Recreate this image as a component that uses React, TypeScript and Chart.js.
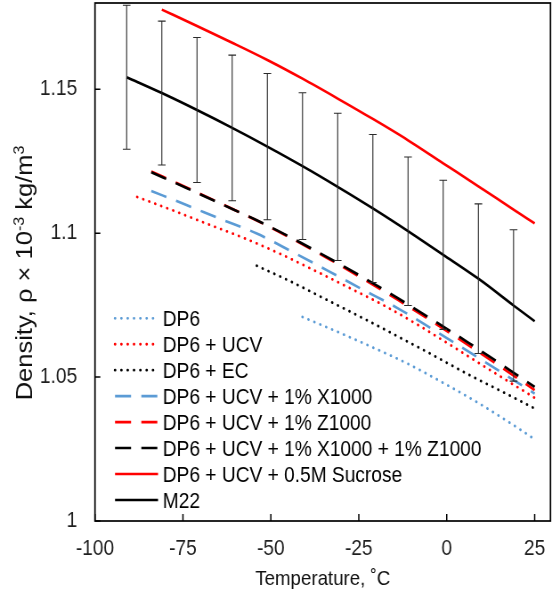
import React, { useEffect, useRef } from "react";
import { Chart, registerables } from "chart.js";

Chart.register(...registerables);

// ---------------- data ----------------
const xTicks = [-100, -75, -50, -25, 0, 25];
const xTickLabels = ["-100", "-75", "-50", "-25", "0", "25"];
const yTicks = [1, 1.05, 1.1, 1.15];
const yTickLabels = ["1", "1.05", "1.1", "1.15"];

const dp6T = [-41, -31, -21, -11, -1, 9, 19, 25];
const dp6Rho = [1.0709, 1.0657, 1.0603, 1.0546, 1.048, 1.041, 1.0333, 1.0284];

const dp6ucvT = [-88, -78, -68, -58, -48, -38, -28, -18, -8, 2, 12, 25];
const dp6ucvRho = [1.1126, 1.108, 1.1032, 1.0985, 1.0932, 1.0873, 1.0812, 1.075, 1.068, 1.0604, 1.0527, 1.0428];

const dp6ecT = [-54, -44, -34, -24, -14, -4, 6, 16, 25];
const dp6ecRho = [1.0887, 1.083, 1.0768, 1.0706, 1.0642, 1.0577, 1.051, 1.0448, 1.0391];

const x1000T = [-84, -74, -64, -54, -44, -34, -24, -14, -4, 6, 16, 25];
const x1000Rho = [1.1147, 1.1098, 1.1048, 1.0999, 1.0936, 1.0871, 1.0805, 1.074, 1.0666, 1.059, 1.0513, 1.0443];

const z1000T = [-84, -74, -64, -54, -44, -34, -24, -14, -4, 6, 16, 25];
const z1000Rho = [1.1215, 1.1159, 1.1102, 1.1044, 1.0981, 1.0914, 1.0843, 1.0769, 1.0692, 1.0612, 1.053, 1.0455];

const xzT = [-84, -74, -64, -54, -44, -34, -24, -14, -4, 6, 16, 25];
const xzRho = [1.1212, 1.1157, 1.1101, 1.1045, 1.0983, 1.0917, 1.0848, 1.0775, 1.0699, 1.0621, 1.054, 1.0466];

const sucroseT = [-81, -71, -61, -51, -41, -31, -21, -11, -1, 9, 19, 25];
const sucroseRho = [1.1777, 1.172, 1.1662, 1.1602, 1.1537, 1.1468, 1.1397, 1.1323, 1.1243, 1.1163, 1.1082, 1.1034];

const m22T = [-91, -81, -71, -61, -51, -41, -31, -21, -11, -1, 9, 19, 25];
const m22Rho = [1.1542, 1.1487, 1.1428, 1.1366, 1.1301, 1.1233, 1.1161, 1.1086, 1.1007, 1.0925, 1.0842, 1.0749, 1.0694];
const m22Err = [0.025, 0.025, 0.0252, 0.0253, 0.0254, 0.0255, 0.0256, 0.0257, 0.0258, 0.0259, 0.026, 0.0263, null];

const seriesLabels = [
  "DP6",
  "DP6 + UCV",
  "DP6 + EC",
  "DP6 + UCV + 1% X1000",
  "DP6 + UCV + 1% Z1000",
  "DP6 + UCV + 1% X1000 + 1% Z1000",
  "DP6 + UCV + 0.5M Sucrose",
  "M22",
];

const xTitle = "Temperature, \u02DAC";
const yTitleParts: { t: string; sup: boolean }[] = [
  { t: "Density, \u03C1 \u00D7 10", sup: false },
  { t: "-3", sup: true },
  { t: " kg/m", sup: false },
  { t: "3", sup: true },
];

// ---------------- layout / style ----------------
const FONT = '"Liberation Sans", Arial, Helvetica, sans-serif';
const LOGICAL_W = 620;
const SHOWN_W = 552;
const H = 597;

const BLUE = "#5B9BD5";
const RED = "#FF0000";
const BLACK = "#000000";

const dotStyle = { borderWidth: 2.8, borderDash: [0.1, 7], borderCapStyle: "round" as const };
const dashStyle = { borderWidth: 2.6, borderDash: [18, 11.5], borderCapStyle: "butt" as const };
const solidStyle = { borderWidth: 2.6, borderDash: [] as number[], borderCapStyle: "butt" as const };

function pts(t: number[], r: number[]) {
  return t.map((v, i) => ({ x: v, y: r[i] }));
}

const seriesData = [
  { t: dp6T, r: dp6Rho, color: BLUE, st: dotStyle },
  { t: dp6ucvT, r: dp6ucvRho, color: RED, st: dotStyle },
  { t: dp6ecT, r: dp6ecRho, color: BLACK, st: dotStyle },
  { t: x1000T, r: x1000Rho, color: BLUE, st: dashStyle },
  { t: z1000T, r: z1000Rho, color: RED, st: dashStyle },
  { t: xzT, r: xzRho, color: BLACK, st: dashStyle },
  { t: sucroseT, r: sucroseRho, color: RED, st: solidStyle },
  { t: m22T, r: m22Rho, color: BLACK, st: solidStyle },
];

const customPlugin = {
  id: "customDraw",
  beforeDraw(chart: any) {
    const ctx = chart.ctx;
    ctx.save();
    ctx.fillStyle = "#ffffff";
    ctx.fillRect(0, 0, chart.width, chart.height);
    ctx.restore();
  },
  afterDatasetsDraw(chart: any) {
    const ctx: CanvasRenderingContext2D = chart.ctx;
    const a = chart.chartArea;
    const x = chart.scales.x;
    const y = chart.scales.y;
    ctx.save();
    // error bars on M22
    ctx.strokeStyle = "#2a2a2a";
    ctx.lineWidth = 1.1;
    ctx.setLineDash([]);
    m22T.forEach((t, i) => {
      const e = m22Err[i];
      if (e == null) return;
      const px = x.getPixelForValue(t);
      const top = y.getPixelForValue(m22Rho[i] + e);
      const bot = y.getPixelForValue(m22Rho[i] - e);
      ctx.beginPath();
      ctx.moveTo(px, top);
      ctx.lineTo(px, bot);
      ctx.moveTo(px - 4.3, top);
      ctx.lineTo(px + 4.3, top);
      ctx.moveTo(px - 4.3, bot);
      ctx.lineTo(px + 4.3, bot);
      ctx.stroke();
    });
    // plot box
    ctx.strokeStyle = "#000";
    ctx.lineWidth = 1.7;
    ctx.strokeRect(a.left, a.top, a.right - a.left, a.bottom - a.top);
    // inside tick marks
    ctx.lineWidth = 1.5;
    ctx.beginPath();
    xTicks.forEach((v) => {
      const px = x.getPixelForValue(v);
      ctx.moveTo(px, a.bottom);
      ctx.lineTo(px, a.bottom - 7);
    });
    yTicks.forEach((v) => {
      const py = y.getPixelForValue(v);
      ctx.moveTo(a.left, py);
      ctx.lineTo(a.left + 6, py);
    });
    ctx.stroke();
    ctx.restore();
  },
  afterDraw(chart: any) {
    const ctx: CanvasRenderingContext2D = chart.ctx;
    const a = chart.chartArea;
    ctx.save();
    // legend
    const x0 = 129.2;
    const x1 = 177.5;
    const tx = 182.8;
    const rowY0 = 318.3;
    const rowStep = 25.95;
    ctx.font = `21.5px ${FONT}`;
    ctx.textAlign = "left";
    ctx.textBaseline = "alphabetic";
    chart.data.datasets.forEach((ds: any, i: number) => {
      const ry = rowY0 + i * rowStep;
      ctx.save();
      ctx.strokeStyle = ds.borderColor;
      ctx.lineWidth = ds.borderWidth;
      ctx.setLineDash(ds.borderDash || []);
      ctx.lineCap = ds.borderCapStyle || "butt";
      ctx.beginPath();
      ctx.moveTo(x0, ry);
      ctx.lineTo(x1, ry);
      ctx.stroke();
      ctx.restore();
      ctx.fillStyle = "#000";
      ctx.fillText(ds.label, tx, ry + 7.7);
    });
    // x title
    ctx.fillStyle = "#111";
    ctx.font = `21px ${FONT}`;
    ctx.textAlign = "center";
    ctx.fillText(xTitle, (a.left + a.right) / 2, 585);
    // y title (rotated, with superscripts)
    const mainSize = 25.5;
    const supSize = 16;
    let total = 0;
    yTitleParts.forEach((p) => {
      ctx.font = `${p.sup ? supSize : mainSize}px ${FONT}`;
      total += ctx.measureText(p.t).width;
    });
    ctx.translate(36, 273);
    ctx.rotate(-Math.PI / 2);
    ctx.textAlign = "left";
    let cx = -total / 2;
    yTitleParts.forEach((p) => {
      ctx.font = `${p.sup ? supSize : mainSize}px ${FONT}`;
      ctx.fillText(p.t, cx, p.sup ? -9 : 0);
      cx += ctx.measureText(p.t).width;
    });
    ctx.restore();
  },
};

export default function App() {
  const ref = useRef<HTMLCanvasElement | null>(null);
  useEffect(() => {
    if (!ref.current) return;
    const datasets = seriesData.map((s, i) => ({
      label: seriesLabels[i],
      data: pts(s.t, s.r),
      borderColor: s.color,
      backgroundColor: s.color,
      borderWidth: s.st.borderWidth,
      borderDash: s.st.borderDash,
      borderCapStyle: s.st.borderCapStyle,
      borderJoinStyle: "round" as const,
      showLine: true,
      pointRadius: 0,
      pointHoverRadius: 0,
      fill: false,
      cubicInterpolationMode: "monotone" as const,
      order: seriesData.length - i,
    }));
    const zeroPad = (scale: any) => {
      scale.paddingTop = 0;
      scale.paddingBottom = 0;
      scale.paddingLeft = 0;
      scale.paddingRight = 0;
    };
    const chart = new Chart(ref.current, {
      type: "scatter",
      data: { datasets },
      options: {
        responsive: false,
        animation: false,
        devicePixelRatio: 1,
        events: [],
        layout: { padding: { top: 3, right: 1.7, left: 0, bottom: 0 } },
        plugins: { legend: { display: false }, tooltip: { enabled: false }, title: { display: false } },
        scales: {
          x: {
            type: "linear",
            min: -100,
            max: 29.5,
            border: { display: false },
            grid: { display: false, drawTicks: false, tickLength: 0 },
            afterBuildTicks: (scale: any) => {
              scale.ticks = xTicks.map((v) => ({ value: v }));
            },
            afterFit: (scale: any) => {
              scale.height = 76;
              zeroPad(scale);
            },
            ticks: {
              padding: 15,
              maxRotation: 0,
              autoSkip: false,
              color: "#1e1e1e",
              font: { family: FONT, size: 21.5 },
              callback: (v: any) => {
                const k = xTicks.indexOf(Number(v));
                return k >= 0 ? xTickLabels[k] : "";
              },
            },
          },
          y: {
            type: "linear",
            min: 1,
            max: 1.18,
            border: { display: false },
            grid: { display: false, drawTicks: false, tickLength: 0 },
            afterBuildTicks: (scale: any) => {
              scale.ticks = yTicks.map((v) => ({ value: v }));
            },
            afterFit: (scale: any) => {
              scale.width = 106.7;
              zeroPad(scale);
            },
            ticks: {
              padding: 20,
              autoSkip: false,
              color: "#1e1e1e",
              font: { family: FONT, size: 21.5 },
              callback: (v: any) => {
                const k = yTicks.findIndex((t) => Math.abs(t - Number(v)) < 1e-9);
                return k >= 0 ? yTickLabels[k] : "";
              },
            },
          },
        },
      },
      plugins: [customPlugin],
    } as any);
    return () => chart.destroy();
  }, []);
  return (
    <div style={{ position: "fixed", left: 0, top: 0, width: SHOWN_W, height: H, background: "#fff" }}>
      <canvas
        ref={ref}
        width={LOGICAL_W}
        height={H}
        style={{ width: `${SHOWN_W}px`, height: `${H}px`, display: "block" }}
      />
    </div>
  );
}
